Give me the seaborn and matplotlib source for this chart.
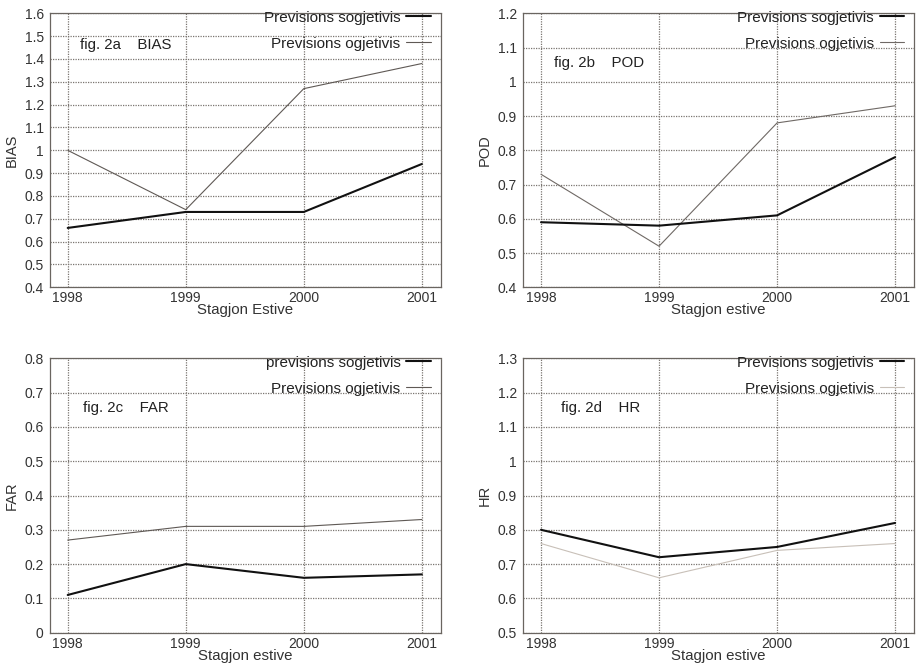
import matplotlib
matplotlib.use("Agg")
import matplotlib.pyplot as plt
import seaborn as sns
import pandas as pd
from matplotlib.ticker import FuncFormatter

sns.set_theme(style="white")
plt.rcParams['font.family'] = ['Liberation Sans', 'DejaVu Sans']

years = [1998, 1999, 2000, 2001]

bias_sog = [0.66, 0.73, 0.73, 0.94]
bias_ogj = [1.00, 0.74, 1.27, 1.38]
pod_sog = [0.59, 0.58, 0.61, 0.78]
pod_ogj = [0.73, 0.52, 0.88, 0.93]
far_sog = [0.11, 0.20, 0.16, 0.17]
far_ogj = [0.27, 0.31, 0.31, 0.33]
hr_sog = [0.80, 0.72, 0.75, 0.82]
hr_ogj = [0.76, 0.66, 0.74, 0.76]

panel_tags = ["fig. 2a    BIAS", "fig. 2b    POD", "fig. 2c    FAR", "fig. 2d    HR"]
ylabels = ["BIAS", "POD", "FAR", "HR"]
xlabels = ["Stagjon Estive", "Stagjon estive", "Stagjon estive", "Stagjon estive"]
legend_sog = ["Previsions sogjetivis", "Previsions sogjetivis", "previsions sogjetivis", "Previsions sogjetivis"]
legend_ogj = ["Previsions ogjetivis", "Previsions ogjetivis", "Previsions ogjetivis", "Previsions ogjetivis"]
ylims = [(0.4, 1.6), (0.4, 1.2), (0.0, 0.8), (0.5, 1.3)]

sog_data = [bias_sog, pod_sog, far_sog, hr_sog]
ogj_data = [bias_ogj, pod_ogj, far_ogj, hr_ogj]
ogj_colors = ["#5f5955", "#6f6965", "#5f5955", "#c8c0b8"]
text_pos = [(0.077, 0.884), (0.079, 0.82), (0.084, 0.819), (0.096, 0.818)]

fig = plt.figure(figsize=(9.17, 6.68), dpi=100)
W, H = 917, 668
boxes = [(50, 13.3, 390.7, 274), (523.3, 13.3, 390.7, 274),
         (50, 358.3, 390.7, 274.4), (523.3, 358.3, 390.7, 274.4)]

fmt = FuncFormatter(lambda v, p: f"{v:.1f}".rstrip('0').rstrip('.') if abs(v) > 1e-9 else "0")

for i in range(4):
    l, t, w, h = boxes[i]
    ax = fig.add_axes([l / W, (H - t - h) / H, w / W, h / H])
    df = pd.DataFrame({"year": years, "sog": sog_data[i], "ogj": ogj_data[i]})
    sns.lineplot(data=df, x="year", y="sog", ax=ax, color="#111111", linewidth=1.5,
                 label=legend_sog[i], zorder=4)
    sns.lineplot(data=df, x="year", y="ogj", ax=ax, color=ogj_colors[i], linewidth=0.8,
                 label=legend_ogj[i], zorder=3)
    lo, hi = ylims[i]
    ax.set_ylim(lo, hi)
    ax.set_xlim(1997.85, 2001.16)
    ax.set_xticks(years)
    ax.set_xticklabels([str(y) for y in years])
    nt = int(round((hi - lo) / 0.1)) + 1
    ax.set_yticks([lo + 0.1 * k for k in range(nt)])
    ax.yaxis.set_major_formatter(fmt)
    ax.grid(True, color="#7a7570", linestyle=(0, (1, 1)), linewidth=0.9)
    ax.set_axisbelow(True)
    for s in ax.spines.values():
        s.set_color("#6a6560")
        s.set_linewidth(0.9)
    ax.spines['top'].set_linestyle((0, (1, 1)))
    ax.spines['right'].set_linestyle((0, (1, 1)))
    ax.tick_params(axis='both', length=0, labelsize=10, colors="#333333")
    ax.tick_params(axis='y', pad=4.5)
    ax.tick_params(axis='x', pad=3)
    ax.set_xlabel(xlabels[i], fontsize=10.8, color="#333333", labelpad=-1.5)
    ax.set_ylabel(ylabels[i], fontsize=10.5, color="#333333", labelpad=4)
    ax.text(text_pos[i][0], text_pos[i][1], panel_tags[i], transform=ax.transAxes,
            fontsize=10.8, color="#222222", va="center", ha="left")
    leg = ax.legend(loc="upper right", frameon=False, markerfirst=False, fontsize=11,
                    handlelength=1.6, labelspacing=0.8, borderaxespad=0.0, borderpad=0.0,
                    handletextpad=0.4, bbox_to_anchor=(0.975, 1.01))
    for txt in leg.get_texts():
        txt.set_color("#222222")

fig.savefig("out.png", dpi=100, facecolor="white")
